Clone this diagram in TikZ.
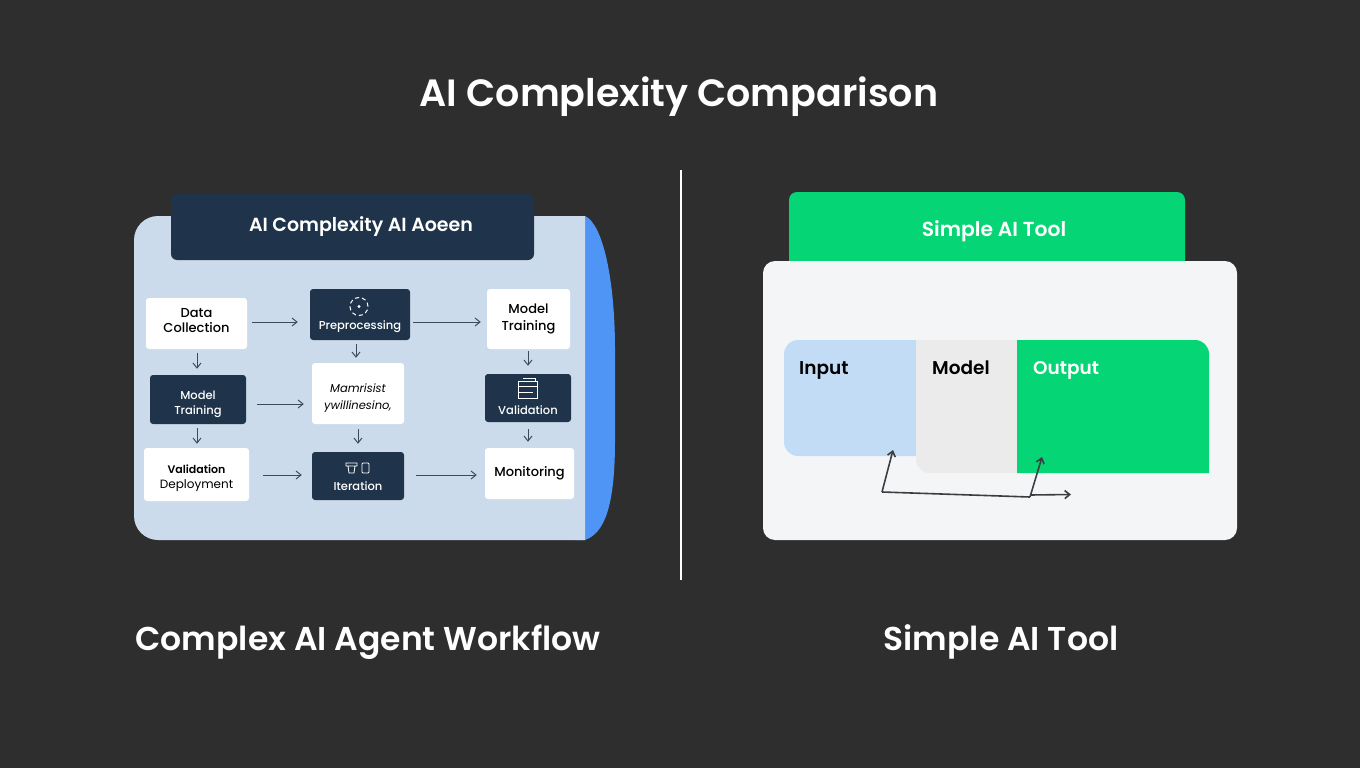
\documentclass[tikz,border=0pt]{standalone}
\usepackage{fontspec}
\setmainfont{Poppins}[BoldFont={Poppins SemiBold}]
\newfontfamily\medfont{Poppins Medium}
\usetikzlibrary{arrows.meta, calc}
\definecolor{bgdark}{RGB}{46,46,46}
\definecolor{panelblue}{RGB}{204,219,236}
\definecolor{stripblue}{RGB}{78,149,245}
\definecolor{navy}{RGB}{31,52,75}
\definecolor{toolgreen}{RGB}{5,213,116}
\definecolor{toolwhite}{RGB}{244,245,247}
\definecolor{inputblue}{RGB}{194,220,245}
\definecolor{modelgray}{RGB}{235,235,235}
\definecolor{arrowgray}{RGB}{60,74,92}
\definecolor{flowgray}{RGB}{58,62,66}

\begin{document}
\begin{tikzpicture}[
    x=1pt, y=-1pt,
    whitebox/.style={rectangle, fill=white, align=center, rounded corners=3pt, text=black, inner sep=0pt, font=\fontsize{13}{15.5}\selectfont\medfont},
    navybox/.style={rectangle, fill=navy, align=center, rounded corners=3pt, text=white, inner sep=0pt, font=\fontsize{11.5}{15.5}\selectfont\medfont},
    arr/.style={-{Straight Barb[length=5pt, width=8pt]}, line width=1pt, color=arrowgray},
    flow/.style={-{Straight Barb[length=5pt, width=8pt]}, line width=1.6pt, color=flowgray},
    heading/.style={text=white, inner sep=0pt, font=\fontsize{33}{37}\selectfont\bfseries},
    tag/.style={anchor=west, inner sep=0pt, font=\fontsize{18.5}{22}\selectfont\bfseries},
    icon/.style={draw=white, line width=0.8pt}
]
\fill[bgdark] (0,0) rectangle (1360,768);
\useasboundingbox (0,0) rectangle (1360,768);

\node[heading, font=\fontsize{38}{42}\selectfont\bfseries] (title) at (679,97) {AI Complexity Comparison};
\node[heading] (capleft) at (368,642) {Complex AI Agent Workflow};
\node[heading] (capright) at (1001,642) {Simple AI Tool};

\coordinate (divtop) at (681,170);
\coordinate (divbot) at (681,580);
\draw[white, line width=1.5pt] (divtop) -- (divbot);

% left panel
\fill[stripblue] (575,216) -- (585,216) .. controls (603,224) and (615,280) .. (615,350) -- (615,440) .. controls (615,505) and (605,533) .. (585,540) -- (575,540) -- cycle;
\fill[panelblue, rounded corners=24pt] (585,216) -- (134,216) -- (134,540) [sharp corners] -- (585,540) -- cycle;
\node[navybox, rounded corners=6pt, minimum width=363pt, minimum height=66pt, font=\fontsize{19}{23}\selectfont\bfseries] (head) at (352.5,227) {\hspace{17pt}AI Complexity AI Aoeen};

\node[whitebox, minimum width=101pt, minimum height=51pt] (data) at (196.5,323.5) {Data\\Collection\\[-9.5pt]};
\node[navybox, minimum width=100pt, minimum height=51pt] (prep) at (360,314.5) {\rule{0pt}{33pt}Preprocessing};
\node[whitebox, minimum width=83pt, minimum height=60pt, font=\fontsize{13}{17}\selectfont\medfont] (train) at (528.5,319) {Model\\Training};
\node[navybox, minimum width=96pt, minimum height=49pt] (train2) at (198,399.5) {\rule{0pt}{18pt}Model\\Training};
\node[whitebox, minimum width=92pt, minimum height=61pt, font=\fontsize{11.5}{17}\selectfont\itshape] (garble) at (358,393.5) {\rule{0pt}{18pt}Mamrisist\\ywillinesino,};
\node[navybox, minimum width=86pt, minimum height=48pt] (valid) at (528,398) {\rule{0pt}{34pt}Validation};
\node[whitebox, minimum width=105pt, minimum height=53pt, font=\fontsize{12}{15.5}\selectfont] (deploy) at (196.5,474.5) {\rule{0pt}{16pt}{\fontsize{11}{15.5}\selectfont\bfseries Validation}\\Deployment};
\node[navybox, minimum width=92pt, minimum height=48pt] (iter) at (358,476) {\rule{0pt}{30pt}Iteration};
\node[whitebox, minimum width=89pt, minimum height=51pt] (monitor) at (529.5,473.5) {Monitoring\\[-11.5pt]};

% small icons
\draw[icon, line width=1pt, dash pattern=on 4pt off 3pt] (prep.center) ++(-1,-8) circle (9pt);
\fill[white] (prep.center) ++(-1,-8) circle (1.6pt);
\draw[icon] (iter.center) ++(-12,-13) rectangle ++(11,3) ++(-9,0) -- ++(1,7) -- ++(5,0) -- ++(1,-7);
\draw[icon, rounded corners=1pt] (iter.center) ++(4,-13) rectangle ++(7,10);
\draw[icon] (valid.center) ++(-10,-17) rectangle ++(19,17) ++(-19,-12) -- ++(19,0) ++(-19,6) -- ++(15,0);
\draw[icon] (valid.center) ++(-5,-20) -- ++(12,0) -- ++(0,3);

\draw[arr] ([xshift=5pt, yshift=1.5pt]data.east) -- ([xshift=-12pt, yshift=-7.5pt]prep.west);
\draw[arr] ([xshift=3pt, yshift=-7.5pt]prep.east) -- ([xshift=-6pt, yshift=-3pt]train.west);
\draw[arr] ([xshift=11pt, yshift=-4.5pt]train2.east) -- ([xshift=-8pt, yshift=-10.5pt]garble.west);
\draw[arr] ([xshift=14pt, yshift=-0.5pt]deploy.east) -- ([xshift=-10pt, yshift=1pt]iter.west);
\draw[arr] ([xshift=12pt, yshift=1pt]iter.east) -- ([xshift=-8pt, yshift=-1.5pt]monitor.west);
\draw[arr] ([xshift=0.5pt, yshift=-4pt]data.south) -- ([xshift=-1pt, yshift=6pt]train2.north);
\draw[arr] ([xshift=-4pt, yshift=-4pt]prep.south) -- ([xshift=-2pt, yshift=5pt]garble.north);
\draw[arr] ([xshift=-0.5pt, yshift=-2pt]train.south) -- ([yshift=8pt]valid.north);
\draw[arr] ([xshift=-1pt, yshift=-4pt]train2.south) -- ([xshift=0.5pt, yshift=4pt]deploy.north);
\draw[arr] ([yshift=-5pt]garble.south) -- ([yshift=8pt]iter.north);
\draw[arr] ([yshift=-7pt]valid.south) -- ([xshift=-1.5pt, yshift=6pt]monitor.north);

% right panel
\fill[toolgreen, rounded corners=8pt] (789,280) -- (789,192) -- (1185,192) -- (1185,280) -- cycle;
\node[text=white, inner sep=0pt, font=\fontsize{20.3}{24}\selectfont\bfseries] (toolhead) at (994,231) {Simple AI Tool};
\fill[toolwhite, rounded corners=12pt] (763,261) rectangle (1237,540);

\fill[inputblue, rounded corners=14pt] (916,340) -- (784,340) -- (784,456) [sharp corners] -- (916,456) -- cycle;
\fill[modelgray, rounded corners=14pt] (1017,473) -- (916,473) [sharp corners] -- (916,340) -- (1017,340) -- cycle;
\fill[toolgreen, rounded corners=14pt] (1017,340) -- (1209,340) [sharp corners] -- (1209,473) -- (1017,473) -- cycle;
\node[tag, text=black] (input) at (799,370.5) {Input};
\node[tag, text=black] (model) at (932,367.5) {Model};
\node[tag, text=white] (output) at (1033,370.5) {Output};

\coordinate (inputtip) at (893,450);
\coordinate (outputtip) at (1042,457);
\coordinate (elbow) at (882,492);
\coordinate (split) at (1030,497);
\coordinate (endtip) at (1071,494.5);
\draw[flow, -] (elbow) -- (split);
\draw[flow] (elbow) -- (inputtip);
\draw[flow] (split) -- (outputtip);
\draw[flow] (split) ++(0,-2) -- (endtip);
\end{tikzpicture}
\end{document}
